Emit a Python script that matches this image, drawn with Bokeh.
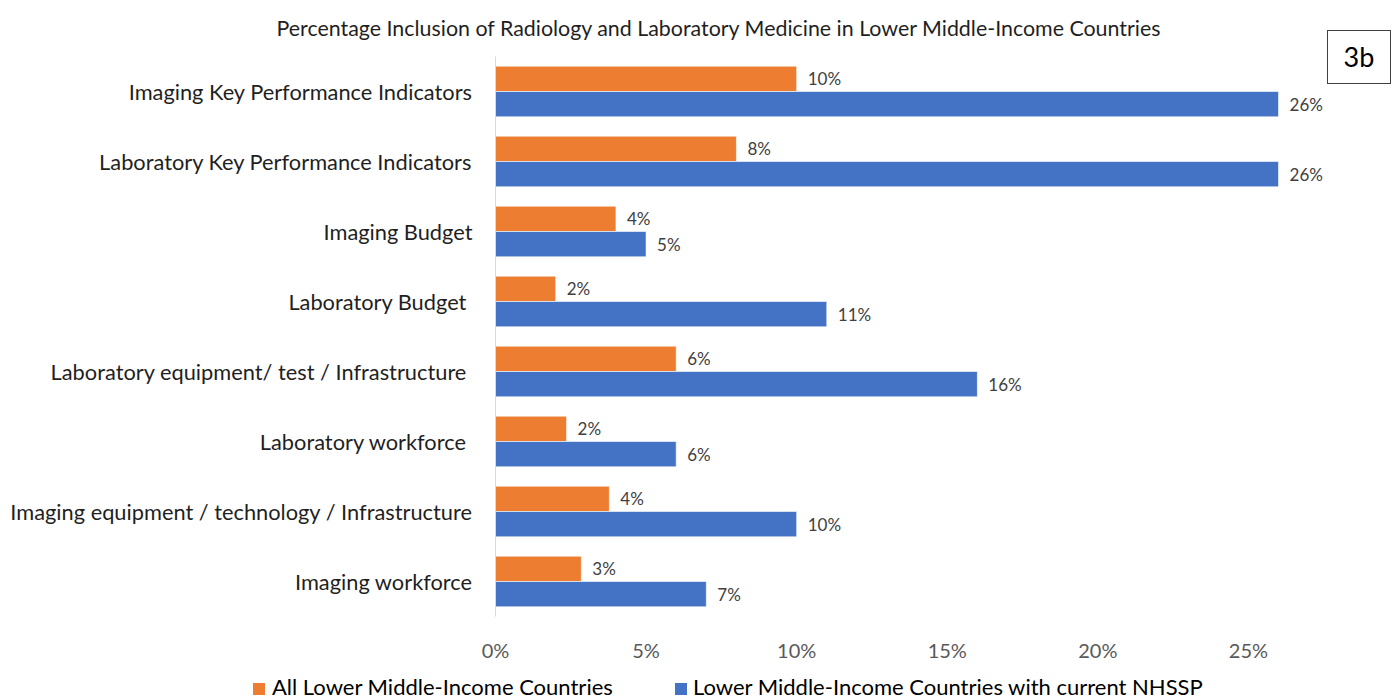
from bokeh.plotting import figure
from bokeh.models import (ColumnDataSource, FactorRange, FixedTicker, NumeralTickFormatter,
                          LabelSet, Title, Div)
from bokeh.layouts import row, column
from bokeh.core.properties import value
from bokeh.transform import dodge
from bokeh.embed import file_html
from bokeh.resources import INLINE

# ---- data (top-to-bottom order as in the chart) ----
categories = [
    "Imaging Key Performance Indicators",
    "Laboratory Key Performance Indicators",
    "Imaging Budget",
    "Laboratory  Budget",
    "Laboratory equipment/ test / Infrastructure ",
    "Laboratory  workforce",
    "Imaging equipment / technology / Infrastructure",
    "Imaging workforce",
]
all_lmic = [0.10, 0.08, 0.04, 0.02, 0.06, 0.0236, 0.0378, 0.0285]
with_nhssp = [0.26, 0.26, 0.05, 0.11, 0.16, 0.06, 0.10, 0.07]
x_ticks = [0, 0.05, 0.10, 0.15, 0.20, 0.25]
series_names = ["All Lower Middle-Income Countries",
                "Lower Middle-Income Countries with current NHSSP"]
title_text = "Percentage Inclusion of Radiology and Laboratory Medicine in Lower Middle-Income Countries"
panel_tag = "3b"

FONT = "Lato"
ORANGE = "#ED7D31"
BLUE = "#4472C4"

src = ColumnDataSource(dict(
    cat=categories,
    all=all_lmic,
    nhssp=with_nhssp,
    all_lbl=[f"{v*100:.0f}%" for v in all_lmic],
    nhssp_lbl=[f"{v*100:.0f}%" for v in with_nhssp],
))

p = figure(width=1327, height=676, output_backend="svg", toolbar_location=None,
           y_range=FactorRange(factors=categories[::-1], range_padding=0),
           x_range=(0, 0.2756),
           min_border_left=495, min_border_right=2, min_border_top=56, min_border_bottom=60)
p.outline_line_color = None
p.xgrid.grid_line_color = None
p.ygrid.grid_line_color = None

off = 0.181
h = 0.362
r_all = p.hbar(y=dodge("cat", off, range=p.y_range), right="all", left=0, height=h, source=src,
               fill_color=ORANGE, line_color="white", line_width=0.6)
r_nh = p.hbar(y=dodge("cat", -off, range=p.y_range), right="nhssp", left=0, height=h, source=src,
              fill_color=BLUE, line_color="white", line_width=0.6)

for col, d in (("all", off), ("nhssp", -off)):
    p.add_layout(LabelSet(x=col, y=dodge("cat", d, range=p.y_range), text=col + "_lbl", source=src,
                          x_offset=11, text_baseline="middle", text_align="left",
                          text_font=value(FONT), text_font_size=value("17px"),
                          text_color="#404040"))

# axes
xa = p.xaxis[0]
xa.ticker = FixedTicker(ticks=x_ticks)
xa.formatter = NumeralTickFormatter(format="0%")
xa.axis_line_color = None
xa.major_tick_line_color = None
xa.minor_tick_line_color = None
xa.major_tick_out = 0
xa.major_tick_in = 0
xa.major_label_standoff = 21
xa.major_label_text_font = FONT
xa.major_label_text_font_size = "20px"
xa.major_label_text_color = "#595959"

ya = p.yaxis[0]
ya.axis_line_color = "#d9d9d9"
ya.axis_line_width = 1
ya.major_tick_line_color = None
ya.minor_tick_line_color = None
ya.major_tick_out = 0
ya.major_tick_in = 0
ya.major_label_standoff = 23
ya.major_label_text_font = FONT
ya.major_label_text_font_size = "21.8px"
ya.major_label_text_color = "#1f1f1f"

# title
p.add_layout(Title(text=title_text, align="left", offset=-219, vertical_align="top",
                   standoff=28, text_font=FONT, text_font_size="21.4px",
                   text_font_style="normal", text_color="#1f1f1f"), "above")

tag = Div(text=f'<span style="font-family:Lato;font-size:27px">{panel_tag}</span>',
          width=64, height=54, margin=(30, 0, 0, 0),
          styles={"border": "1px solid #404040", "box-sizing": "border-box",
                  "font-family": FONT, "font-size": "27px", "text-align": "center",
                  "line-height": "52px", "color": "#000000", "background": "white"})

sq = ("display:inline-block;width:12px;height:12px;background:{c};"
      "vertical-align:0px;margin-left:{m}px")
legend_html = (
    '<div style="white-space:nowrap;font-family:Lato;font-size:22px;line-height:22px;color:#000">'
    f'<span style="{sq.format(c=ORANGE, m=253)}"></span>'
    f'<span style="display:inline-block;width:410px;padding-left:7px">{series_names[0]}</span>'
    f'<span style="{sq.format(c=BLUE, m=0)}"></span>'
    f'<span style="display:inline-block;padding-left:6px">{series_names[1]}</span>'
    '</div>'
)
legend_div = Div(text=legend_html, width=1391, height=22, margin=(0, 0, 0, 0))

layout = column(row(p, tag), legend_div)
open("out.html", "w").write(file_html(layout, INLINE))
